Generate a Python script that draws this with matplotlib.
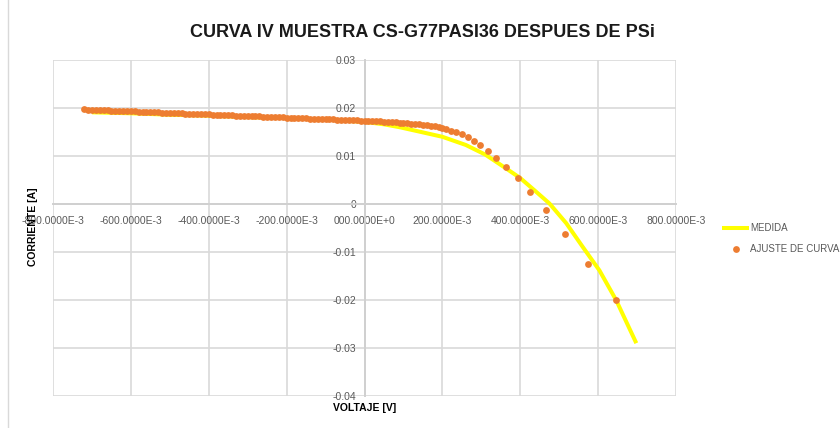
import matplotlib
matplotlib.use("Agg")
import matplotlib.pyplot as plt
from matplotlib.lines import Line2D

# medida (linea amarilla)
v_medida = [-0.70, -0.65, -0.60, -0.50, -0.40, -0.30, -0.20, -0.10, 0.00, 0.05,
            0.09, 0.14, 0.20, 0.26, 0.31, 0.36, 0.40, 0.44, 0.475, 0.518,
            0.56, 0.603, 0.646, 0.698]
i_medida = [0.0191, 0.0190, 0.0189, 0.0186, 0.0184, 0.0181, 0.0179, 0.0176, 0.0171, 0.0166,
            0.0160, 0.0151, 0.0140, 0.0123, 0.0103, 0.0076, 0.0054, 0.0026, 0.0001, -0.0040,
            -0.0089, -0.0138, -0.0200, -0.0290]

# ajuste de curva (puntos naranjas)
v_ajuste = [-0.72, -0.71, -0.70, -0.69, -0.68, -0.67, -0.66, -0.65, -0.64, -0.63,
            -0.62, -0.61, -0.60, -0.59, -0.58, -0.57, -0.56, -0.55, -0.54, -0.53,
            -0.52, -0.51, -0.50, -0.49, -0.48, -0.47, -0.46, -0.45, -0.44, -0.43,
            -0.42, -0.41, -0.40, -0.39, -0.38, -0.37, -0.36, -0.35, -0.34, -0.33,
            -0.32, -0.31, -0.30, -0.29, -0.28, -0.27, -0.26, -0.25, -0.24, -0.23,
            -0.22, -0.21, -0.20, -0.19, -0.18, -0.17, -0.16, -0.15, -0.14, -0.13,
            -0.12, -0.11, -0.10, -0.09, -0.08, -0.07, -0.06, -0.05, -0.04, -0.03,
            -0.02, -0.01, 0.00, 0.01, 0.02, 0.03, 0.04, 0.05, 0.06, 0.07,
            0.08, 0.09, 0.10, 0.11, 0.12, 0.13, 0.14, 0.15, 0.16, 0.17,
            0.18, 0.19, 0.20, 0.21, 0.223, 0.236, 0.251, 0.265, 0.280, 0.297,
            0.317, 0.338, 0.364, 0.394, 0.426, 0.466, 0.516, 0.575, 0.647]
i_ajuste = [0.01970, 0.01967, 0.01963, 0.01960, 0.01957, 0.01954, 0.01950, 0.01947, 0.01944, 0.01941,
            0.01937, 0.01934, 0.01931, 0.01928, 0.01924, 0.01921, 0.01918, 0.01915, 0.01911, 0.01908,
            0.01905, 0.01901, 0.01898, 0.01895, 0.01892, 0.01888, 0.01885, 0.01882, 0.01879, 0.01875,
            0.01872, 0.01869, 0.01866, 0.01862, 0.01859, 0.01856, 0.01853, 0.01849, 0.01846, 0.01843,
            0.01839, 0.01836, 0.01833, 0.01830, 0.01826, 0.01823, 0.01820, 0.01817, 0.01813, 0.01810,
            0.01807, 0.01804, 0.01800, 0.01797, 0.01794, 0.01790, 0.01787, 0.01784, 0.01781, 0.01777,
            0.01774, 0.01771, 0.01768, 0.01764, 0.01761, 0.01758, 0.01755, 0.01751, 0.01748, 0.01745,
            0.01742, 0.01738, 0.01735, 0.01731, 0.01728, 0.01724, 0.01720, 0.01716, 0.01711, 0.01706,
            0.01701, 0.01695, 0.01689, 0.01682, 0.01675, 0.01667, 0.01659, 0.01650, 0.01642, 0.01633,
            0.01621, 0.01607, 0.01592, 0.01560, 0.01530, 0.01490, 0.01450, 0.01390, 0.01320, 0.01220,
            0.01110, 0.00960, 0.00780, 0.00540, 0.00240, -0.00130, -0.00630, -0.01240, -0.02010]

x_ticks = [-0.8, -0.6, -0.4, -0.2, 0.0, 0.2, 0.4, 0.6, 0.8]
x_labels = ['-800.0000E-3', '-600.0000E-3', '-400.0000E-3', '-200.0000E-3', '000.0000E+0',
            '200.0000E-3', '400.0000E-3', '600.0000E-3', '800.0000E-3']
y_ticks = [0.03, 0.02, 0.01, 0.0, -0.01, -0.02, -0.03, -0.04]
y_labels = ['0.03', '0.02', '0.01', '0', '-0.01', '-0.02', '-0.03', '-0.04']

plt.rcParams['font.family'] = ['Liberation Sans', 'DejaVu Sans']

fig = plt.figure(figsize=(8.4, 4.28), dpi=100)
ax = fig.add_axes([0.0631, 0.0748, 0.7417, 0.785])

ax.plot(v_medida, i_medida, color='#FFFF00', lw=2.9, label='MEDIDA', zorder=3,
        solid_capstyle='butt')
ax.scatter(v_ajuste, i_ajuste, s=24, color='#ED7D31', label='AJUSTE DE CURVA',
           zorder=4, linewidths=0)

ax.set_xlim(-0.8, 0.8)
ax.set_ylim(-0.04, 0.03)
ax.set_xticks(x_ticks)
ax.set_xticklabels(x_labels)
ax.set_yticks(y_ticks)
ax.set_yticklabels(y_labels)
ax.grid(True, color='#D9D9D9', lw=1.2)
ax.set_axisbelow(True)

for s in ['top', 'right']:
    ax.spines[s].set_visible(False)
ax.spines['left'].set_position(('data', 0))
ax.spines['bottom'].set_position(('data', 0))
ax.spines['left'].set_color('#D0D0D0')
ax.spines['bottom'].set_color('#D0D0D0')
ax.spines['left'].set_linewidth(1.4)
ax.spines['bottom'].set_linewidth(1.4)
ax.tick_params(length=0, labelsize=7.5, labelcolor='#595959')
ax.tick_params(axis='x', pad=9)
ax.tick_params(axis='y', pad=6)

fig.text(0.503, 0.925, 'CURVA IV MUESTRA CS-G77PASI36 DESPUES DE PSi',
         ha='center', va='center', fontsize=13, fontweight='bold', color='#1a1a1a')
fig.text(0.039, 0.47, 'CORRIENTE [A]', rotation=90, ha='center', va='center',
         fontsize=7.5, fontweight='bold')
fig.text(0.434, 0.047, 'VOLTAJE [V]', ha='center', va='center',
         fontsize=7.5, fontweight='bold')

fig.add_artist(Line2D([0.0095, 0.0095], [0, 1], color='#D9D9D9', lw=1))

leg = ax.legend(loc='center left', bbox_to_anchor=(0.849, 0.443),
                bbox_transform=fig.transFigure, frameon=False, fontsize=7,
                handlelength=2.8, handletextpad=0.1, labelspacing=1.05)
for t in leg.get_texts():
    t.set_color('#595959')

fig.savefig('out.png', dpi=100)
